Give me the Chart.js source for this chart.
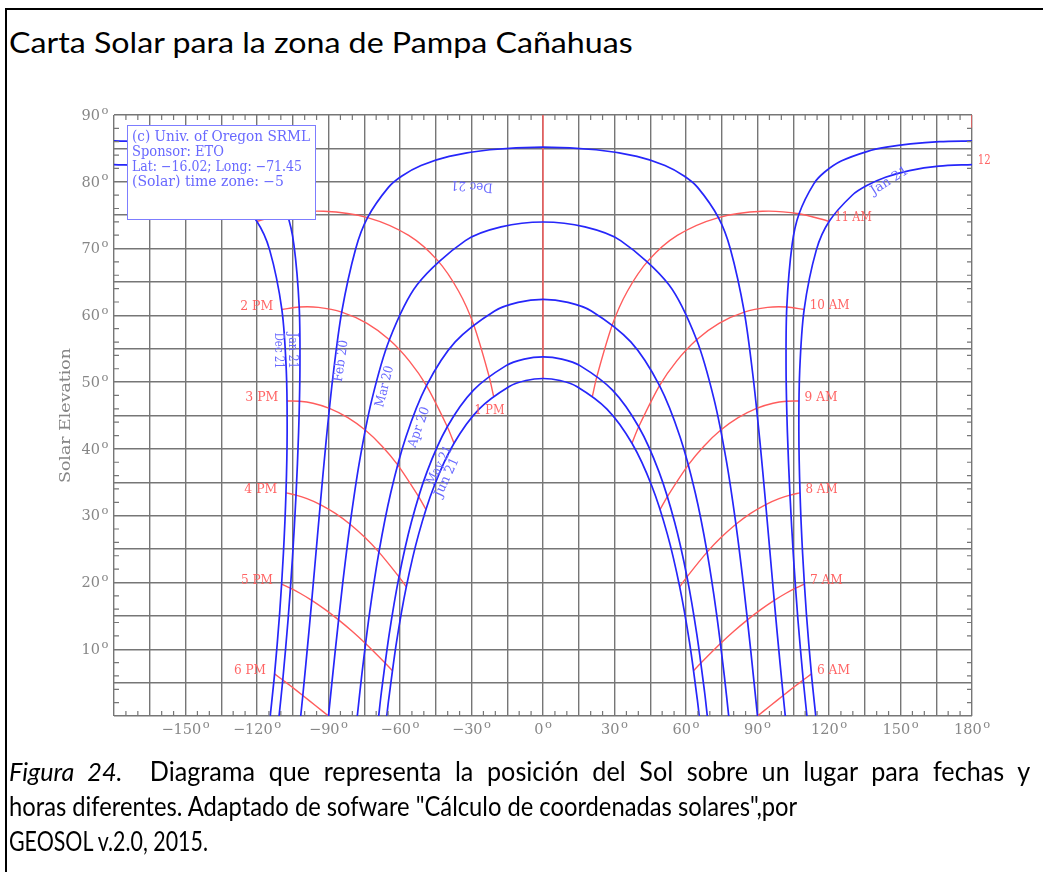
<!DOCTYPE html>
<html>
<head>
<meta charset="utf-8">
<script src="https://cdn.jsdelivr.net/npm/chart.js@4.4.1/dist/chart.umd.min.js"></script>
<style>
  body { margin: 0; background: #fff; }
  #page { position: relative; width: 1043px; height: 872px; overflow: hidden; background: #fff; }
  #frame { position: absolute; left: 5px; top: 8px; width: 1100px; height: 900px;
           border-top: 2px solid #000; border-left: 2px solid #000; }
  #plotbg { position: absolute; left: 45px; top: 105px; width: 998px; height: 637px; background: #fff; }
  #chart { position: absolute; left: 0; top: 0; }
  .txt { position: absolute; left: 9px; white-space: nowrap; font-family: Lato, "Open Sans", sans-serif;
         font-size: 26px; line-height: 26px; color: #000; transform-origin: 0 0; }
</style>
</head>
<body>
<div id="page">
  <div id="frame"></div>
  <div id="title" class="txt" style="top:28px;font-size:28px;line-height:28px">Carta Solar para la zona de Pampa Cañahuas</div>
  <div id="plotbg"></div>
  <canvas id="chart" width="1043" height="872"></canvas>
  <div class="txt cap" style="top:758px"><i>Figura 24.</i>&nbsp; Diagrama que representa la posición del Sol sobre un lugar para fechas y</div>
  <div class="txt cap" style="top:793px">horas diferentes. Adaptado de sofware "Cálculo de coordenadas solares",por</div>
  <div class="txt cap" style="top:828px">GEOSOL v.2.0, 2015.</div>
</div>
<script>
// sun path for Lat -16.02, solar time; [azimuth, elevation]
// (azimuth: 0 = north, + = east/morning, - = west/afternoon)
const dec21Am = [[114.45,0],[112.62,6.30],[110.53,15.24],[108.93,24.29],[107.84,33.42],[107.35,42.58],[107.71,51.75],[109.57,60.87],[114.7,69.80],[120.1,74.08],[129.84,78.02],[135.87,79.43],[143.7,80.68],[153.76,81.68],[166.1,82.34],[180,82.58]];
const dec21Pm = [[-180,82.58],[-166.1,82.34],[-153.76,81.68],[-143.7,80.68],[-135.87,79.43],[-129.84,78.02],[-120.1,74.08],[-114.7,69.80],[-109.57,60.87],[-107.71,51.75],[-107.35,42.58],[-107.84,33.42],[-108.93,24.29],[-110.53,15.24],[-112.62,6.30],[-114.45,0]];
const jan21Am = [[110.74,0],[109.19,5.39],[106.94,14.53],[105.10,23.77],[103.63,33.08],[102.55,42.44],[101.99,51.84],[102.29,61.24],[104.52,70.60],[107.45,75.22],[113.68,79.73],[118.2,81.46],[125.1,83.10],[136.2,84.56],[144.1,85.18],[154.2,85.68],[166.4,86.01],[180,86.12]];
const jan21Pm = [[-180,86.12],[-166.4,86.01],[-154.2,85.68],[-144.1,85.18],[-136.2,84.56],[-125.1,83.10],[-118.2,81.46],[-113.68,79.73],[-107.45,75.22],[-104.52,70.60],[-102.29,61.24],[-101.99,51.84],[-102.55,42.44],[-103.63,33.08],[-105.10,23.77],[-106.94,14.53],[-109.19,5.39],[-110.74,0]];
const feb20 = [[101.66,0],[100.78,3.07],[98.23,12.55],[95.83,22.09],[93.46,31.67],[90.97,41.27],[88.12,50.88],[84.46,60.49],[78.59,69.98],[73.61,74.64],[64.87,79.16],[59.20,80.86],[51.18,82.43],[39.4,83.80],[22.3,84.80],[0,85.18],[-22.3,84.80],[-39.4,83.80],[-51.18,82.43],[-59.20,80.86],[-64.87,79.16],[-73.61,74.64],[-78.59,69.98],[-84.46,60.49],[-88.12,50.88],[-90.97,41.27],[-93.46,31.67],[-95.83,22.09],[-98.23,12.55],[-100.78,3.07],[-101.66,0]];
const mar20 = [[90,0],[87.22,9.61],[84.26,19.19],[80.94,28.72],[76.96,38.16],[71.78,47.42],[64.45,56.35],[52.83,64.58],[32.56,71.19],[17.59,73.24],[0,73.98],[-17.59,73.24],[-32.56,71.19],[-52.83,64.58],[-64.45,56.35],[-71.78,47.42],[-76.96,38.16],[-80.94,28.72],[-84.26,19.19],[-87.22,9.61],[-90,0]];
const apr20 = [[77.92,0],[76.02,6.20],[72.76,15.46],[68.84,24.54],[63.93,33.35],[57.55,41.74],[48.89,49.46],[36.84,56.02],[20.29,60.66],[10.47,61.94],[0,62.40],[-10.47,61.94],[-20.29,60.66],[-36.84,56.02],[-48.89,49.46],[-57.55,41.74],[-63.93,33.35],[-68.84,24.54],[-72.76,15.46],[-76.02,6.20],[-77.92,0]];
const may21 = [[68.94,0],[67.82,3.52],[64.51,12.31],[60.42,20.84],[55.27,28.98],[48.68,36.56],[40.15,43.31],[29.16,48.80],[15.51,52.47],[7.90,53.45],[0,53.78],[-7.90,53.45],[-15.51,52.47],[-29.16,48.80],[-40.15,43.31],[-48.68,36.56],[-55.27,28.98],[-60.42,20.84],[-64.51,12.31],[-67.82,3.52],[-68.94,0]];
const jun21 = [[65.55,0],[64.74,2.49],[61.46,11.06],[57.36,19.34],[52.20,27.20],[45.66,34.45],[37.33,40.84],[26.84,45.96],[14.15,49.35],[7.17,50.24],[0,50.54],[-7.17,50.24],[-14.15,49.35],[-26.84,45.96],[-37.33,40.84],[-45.66,34.45],[-52.20,27.20],[-57.36,19.34],[-61.46,11.06],[-64.74,2.49],[-65.55,0]];

// hour lines, Dec 21 end first, Jun 21 end last
const h6am = [[112.62,6.30],[109.19,5.39],[105.43,4.37],[100.78,3.07],[95.38,1.54],[90,0]];
const h7am = [[109.67,19.76],[105.97,19.14],[101.96,18.38],[97.02,17.32],[91.35,15.93],[85.77,14.40],[80.07,12.69],[74.46,10.85],[66.25,7.94],[63.19,6.80]];
const h8am = [[107.84,33.42],[103.63,33.08],[99.05,32.55],[93.46,31.67],[87.11,30.35],[80.94,28.72],[74.78,26.76],[68.84,24.54],[60.42,20.84],[57.36,19.34]];
const h9am = [[107.40,47.17],[102.19,47.14],[96.52,46.84],[89.61,46.08],[81.88,44.69],[74.59,42.82],[67.51,40.41],[60.97,37.61],[52.19,32.86],[49.13,30.92]];
const h10am = [[109.57,60.87],[102.29,61.24],[94.23,61.19],[84.46,60.49],[73.85,58.81],[64.45,56.35],[56.05,53.15],[48.89,49.46],[40.15,43.31],[37.33,40.84]];
const h11am = [[120.1,74.08],[107.45,75.22],[92.1,75.58],[73.61,74.64],[56.35,71.97],[44.16,68.19],[35.40,63.61],[29.16,58.65],[22.65,50.90],[20.74,47.91]];
const h12north = [[0,90],[0,85.18],[0,73.98],[0,62.40],[0,53.78],[0,50.54]];
const h12south = [[180,90],[180,87.9]];
const h1pm = [[-120.1,74.08],[-107.45,75.22],[-92.1,75.58],[-73.61,74.64],[-56.35,71.97],[-44.16,68.19],[-35.40,63.61],[-29.16,58.65],[-22.65,50.90],[-20.74,47.91]];
const h2pm = [[-109.57,60.87],[-102.29,61.24],[-94.23,61.19],[-84.46,60.49],[-73.85,58.81],[-64.45,56.35],[-56.05,53.15],[-48.89,49.46],[-40.15,43.31],[-37.33,40.84]];
const h3pm = [[-107.40,47.17],[-102.19,47.14],[-96.52,46.84],[-89.61,46.08],[-81.88,44.69],[-74.59,42.82],[-67.51,40.41],[-60.97,37.61],[-52.19,32.86],[-49.13,30.92]];
const h4pm = [[-107.84,33.42],[-103.63,33.08],[-99.05,32.55],[-93.46,31.67],[-87.11,30.35],[-80.94,28.72],[-74.78,26.76],[-68.84,24.54],[-60.42,20.84],[-57.36,19.34]];
const h5pm = [[-109.67,19.76],[-105.97,19.14],[-101.96,18.38],[-97.02,17.32],[-91.35,15.93],[-85.77,14.40],[-80.07,12.69],[-74.46,10.85],[-66.25,7.94],[-63.19,6.80]];
const h6pm = [[-112.62,6.30],[-109.19,5.39],[-105.43,4.37],[-100.78,3.07],[-95.38,1.54],[-90,0]];

// axis tick labels
const xTickLabels = [-150, -120, -90, -60, -30, 0, 30, 60, 90, 120, 150, 180];
const yTickLabels = [10, 20, 30, 40, 50, 60, 70, 80, 90];

// info box lines
const infoLines = ['(c) Univ. of Oregon SRML', 'Sponsor: ETO', 'Lat: \u221216.02; Long: \u221271.45', '(Solar) time zone: \u22125'];

// date labels: text, [az, el] of label centre, rotation in degrees
const dateLabels = [
  ['Dec 21', [-29.9, 79.2], 184],
  ['Jan 21', [145.1, 80.3], -32],
  ['Dec 21', [-110.5, 54.7], 90],
  ['Jan 21', [-104.4, 54.7], 90],
  ['Feb 20', [-85.2, 53.2], -82],
  ['Mar 20', [-66.9, 49.4], -76],
  ['Apr 20', [-52.5, 43.3], -70],
  ['May 21', [-43.8, 37.6], -63],
  ['Jun 21', [-40.8, 35.8], -65]
];

const BLUE = 'rgb(38,38,250)';
const RED = 'rgb(255,92,92)';
const GRID = 'rgb(118,118,118)';
const GREY_TXT = 'rgb(135,135,135)';
const LBL_BLUE = 'rgb(105,105,255)';
const LBL_RED = 'rgb(255,100,100)';
const SERIF = '"DejaVu Serif", "Liberation Serif", serif';

function pts(arr) {
  return arr.map(p => ({ x: p[0], y: p[1] }));
}

function blueLine(arr) {
  return { data: pts(arr), showLine: true, pointRadius: 0, borderColor: BLUE, borderWidth: 1.7, tension: 0.3, order: 1 };
}

function redLine(arr) {
  return { data: pts(arr), showLine: true, pointRadius: 0, borderColor: RED, borderWidth: 1.4, tension: 0.3, order: 2 };
}

// text squeezed/stretched to a given width, (x, cy) = anchor and cap-centre
function fitText(ctx, text, x, cy, w, align, size, color, rot) {
  ctx.save();
  ctx.font = size + 'px ' + SERIF;
  ctx.fillStyle = color;
  const m = ctx.measureText(text).width;
  ctx.translate(x, cy);
  if (rot) ctx.rotate(rot * Math.PI / 180);
  ctx.scale(w ? w / m : 1, 1);
  ctx.textAlign = align;
  ctx.textBaseline = 'alphabetic';
  ctx.fillText(text, 0, 0.3645 * size);
  ctx.restore();
}

function degLabel(ctx, value, x, cy, align) {
  const size = 14.5;
  const num = value < 0 ? '\u2212' + Math.abs(value) : String(value);
  ctx.save();
  ctx.fillStyle = GREY_TXT;
  ctx.font = size + 'px ' + SERIF;
  const wn = ctx.measureText(num).width;
  ctx.font = '11.5px ' + SERIF;
  const wo = ctx.measureText('o').width;
  const total = wn + 1.5 + wo;
  const left = align === 'center' ? x - total / 2 : x - total;
  const top = cy - 0.3645 * size;
  ctx.textAlign = 'left';
  ctx.textBaseline = 'alphabetic';
  ctx.font = size + 'px ' + SERIF;
  ctx.fillText(num, left, cy + 0.3645 * size);
  ctx.font = '11.5px ' + SERIF;
  ctx.fillText('o', left + wn + 1.5, top + 4.5);
  ctx.restore();
}

const overlay = {
  id: 'overlay',
  afterDatasetsDraw(chart) {
    const ctx = chart.ctx;
    const xs = chart.scales.x, ys = chart.scales.y;
    const a = chart.chartArea;
    const px = v => xs.getPixelForValue(v);
    const py = v => ys.getPixelForValue(v);

    // minor ticks
    ctx.save();
    ctx.strokeStyle = GRID;
    ctx.lineWidth = 1.2;
    ctx.beginPath();
    for (let v = -180; v <= 180; v += 5) {
      if (v % 15 === 0) continue;
      ctx.moveTo(px(v), a.bottom); ctx.lineTo(px(v), a.bottom - 5);
      ctx.moveTo(px(v), a.top); ctx.lineTo(px(v), a.top + 5);
    }
    for (let v = 2; v < 90; v += 2) {
      if (v % 5 === 0) continue;
      ctx.moveTo(a.left, py(v)); ctx.lineTo(a.left + 5, py(v));
      ctx.moveTo(a.right, py(v)); ctx.lineTo(a.right - 5, py(v));
    }
    ctx.stroke();
    ctx.restore();

    // axis labels
    xTickLabels.forEach(v => degLabel(ctx, v, px(v), a.bottom + 12.7, 'center'));
    yTickLabels.forEach(v => degLabel(ctx, v, a.left - 5.7, py(v) - 0.5, 'right'));
    fitText(ctx, 'Solar Elevation', 65, 415.5, 135, 'center', 14.5, GREY_TXT, -90);

    // hour labels
    const am = (t, line, w) => {
      const p = line[0];
      fitText(ctx, t, px(p[0]) + 5.5, py(p[1]) - 4.7, w, 'left', 12.5, LBL_RED);
    };
    const pm = (t, line, w) => {
      const p = line[0];
      fitText(ctx, t, px(p[0]) - 8.7, py(p[1]) - 4.5, w, 'right', 12.5, LBL_RED);
    };
    am('11 AM', h11am, 37); am('10 AM', h10am, 40); am('9 AM', h9am, 33);
    am('8 AM', h8am, 32); am('7 AM', h7am, 33); am('6 AM', h6am, 33);
    const noon = dec21Am[dec21Am.length - 1];
    fitText(ctx, '12', px(noon[0]) + 5.7, py(noon[1]) - 5.2, 13, 'left', 12.5, LBL_RED);
    pm('2 PM', h2pm, 33); pm('3 PM', h3pm, 33); pm('4 PM', h4pm, 33);
    pm('5 PM', h5pm, 32); pm('6 PM', h6pm, 32);
    const j = h1pm[h1pm.length - 1];
    fitText(ctx, '1 PM', px(j[0]) - 4, py(j[1]) + 13, 30, 'center', 12.5, LBL_RED);

    // date labels
    dateLabels.forEach((d, i) => fitText(ctx, d[0], px(d[1][0]), py(d[1][1]), i === 2 || i === 3 ? 36 : 42, 'center', 13, LBL_BLUE, d[2]));

    // info box
    ctx.save();
    ctx.fillStyle = '#fff';
    ctx.strokeStyle = 'rgb(125,125,255)';
    ctx.lineWidth = 1;
    ctx.fillRect(127.5, 125.5, 188, 94);
    ctx.strokeRect(127.5, 125.5, 188, 94);
    ctx.restore();
    const widths = [178, 92, 170, 152];
    infoLines.forEach((t, i) => fitText(ctx, t, 132, 136 + i * 15, widths[i], 'left', 14, LBL_BLUE));
  }
};

new Chart(document.getElementById('chart'), {
  type: 'scatter',
  data: {
    datasets: [
      blueLine(dec21Am), blueLine(dec21Pm), blueLine(jan21Am), blueLine(jan21Pm),
      blueLine(feb20), blueLine(mar20), blueLine(apr20), blueLine(may21), blueLine(jun21),
      redLine(h6am), redLine(h7am), redLine(h8am), redLine(h9am), redLine(h10am), redLine(h11am),
      redLine(h12north), redLine(h12south),
      redLine(h1pm), redLine(h2pm), redLine(h3pm), redLine(h4pm), redLine(h5pm), redLine(h6pm)
    ]
  },
  options: {
    responsive: false,
    animation: false,
    events: [],
    layout: { padding: { left: 114, top: 115, right: 71, bottom: 156 } },
    plugins: { legend: { display: false }, tooltip: { enabled: false } },
    scales: {
      x: {
        type: 'linear', min: -180, max: 180,
        ticks: { stepSize: 15, display: false },
        grid: { color: GRID, lineWidth: 1.4, drawTicks: false },
        border: { display: false }
      },
      y: {
        type: 'linear', min: 0, max: 90,
        ticks: { stepSize: 5, display: false },
        grid: { color: GRID, lineWidth: 1.4, drawTicks: false },
        border: { display: false }
      }
    }
  },
  plugins: [overlay]
});

// title: stretch to the width of the original
const title = document.getElementById('title');
title.style.transform = 'scaleX(' + (624 / title.offsetWidth) + ')';

// caption: squeeze taken from line 2; line 1 is justified to the right margin
const caps = document.querySelectorAll('.cap');
const s = 788 / caps[1].offsetWidth;
const s1 = s * 1.06;
const w1 = caps[0].offsetWidth;
const spaces = (caps[0].textContent.match(/[ \u00a0]/g) || []).length;
caps[0].style.wordSpacing = Math.max(0, (1021 / s1 - w1) / spaces) + 'px';
caps[0].style.transform = 'scaleX(' + s1 + ')';
caps[1].style.transform = 'scaleX(' + s + ')';
caps[2].style.transform = 'scaleX(' + (199 / caps[2].offsetWidth) + ')';
</script>
</body>
</html>
